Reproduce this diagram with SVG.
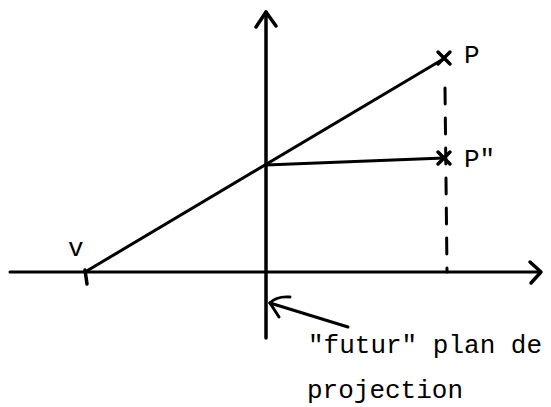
<svg xmlns="http://www.w3.org/2000/svg" width="551" height="407" viewBox="0 0 551 407">
<style>
.ln{stroke:#000;stroke-width:3.5;fill:none;stroke-linecap:round;stroke-linejoin:round}
.th{stroke:#000;stroke-width:3;fill:none;stroke-linecap:round}
.tx{font-family:"Liberation Mono","Courier New",monospace;font-size:26px;fill:#000}
</style>
<rect width="551" height="407" fill="#fff"/>
<g id="connectors">
<path class="ln" d="M266 338 L266 12"/>
<path class="ln" d="M256 27 L266 12 L276 26"/>
<path class="th" d="M10 272 L540 272"/>
<path class="ln" d="M530 262 L541 272 L531 283"/>
<path class="th" d="M85 272 L445 58"/>
<path class="th" d="M266 165 L444 158"/>
<path class="th" stroke-dasharray="16 14" d="M445 88 L447 272"/>
<path class="th" d="M348 327 L270 303"/>
<path class="th" d="M270 303 Q276 296 290 297"/>
<path class="th" d="M270 303 L279 317"/>
</g>
<g id="V">
<path class="ln" d="M85 270 L87 284"/>
<text class="tx" x="68" y="256">v</text>
</g>
<g id="P">
<path class="ln" d="M438 52 L450 64 M450 52 L438 64"/>
<text class="tx" x="464" y="63">P</text>
</g>
<g id="P2">
<path class="ln" d="M438 152 L450 164 M450 152 L438 164"/>
<text class="tx" x="464" y="167">P"</text>
</g>
<g id="label">
<text class="tx" x="308" y="353">"futur" plan de</text>
<text class="tx" x="307" y="398">projection</text>
</g>
</svg>
